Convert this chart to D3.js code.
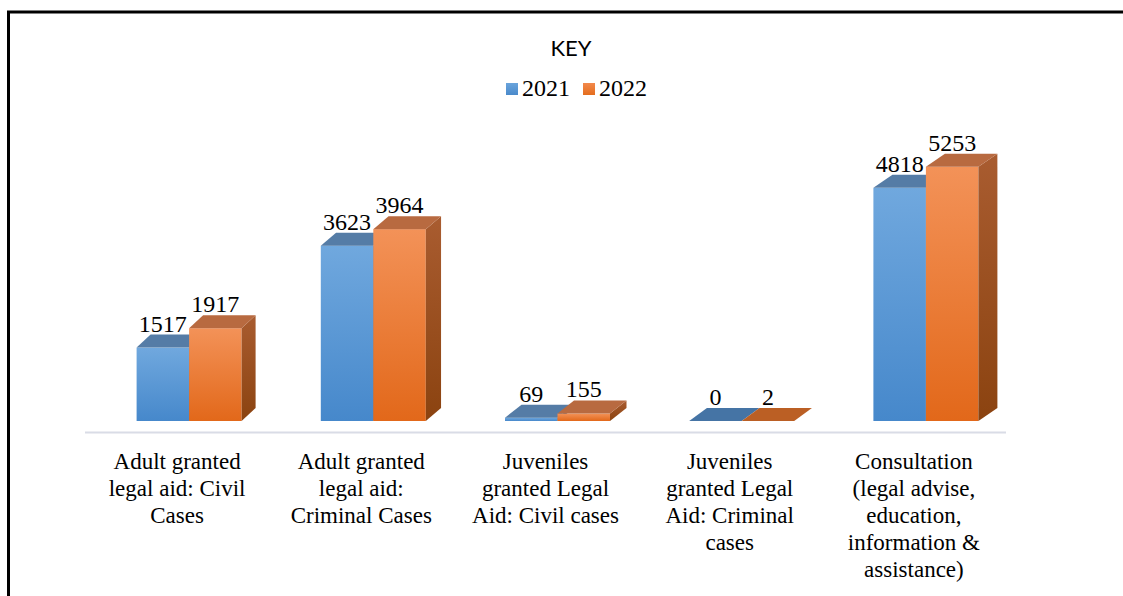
<!DOCTYPE html>
<html>
<head>
<meta charset="utf-8">
<script src="https://cdn.jsdelivr.net/npm/d3@7"></script>
<style>
  html, body { margin: 0; padding: 0; background: #fff; }
  svg { display: block; }
</style>
</head>
<body>
<script>
// ---- data ----
const categories = [
  "Adult granted legal aid: Civil Cases",
  "Adult granted legal aid: Criminal Cases",
  "Juveniles granted Legal Aid: Civil cases",
  "Juveniles granted Legal Aid: Criminal cases",
  "Consultation (legal advise, education, information & assistance)"
];
const categoryLines = [
  ["Adult granted", "legal aid: Civil", "Cases"],
  ["Adult granted", "legal aid:", "Criminal Cases"],
  ["Juveniles", "granted Legal", "Aid: Civil cases"],
  ["Juveniles", "granted Legal", "Aid: Criminal", "cases"],
  ["Consultation", "(legal advise,", "education,", "information &", "assistance)"]
];
const seriesNames = ["2021", "2022"];
const values2021 = [1517, 3623, 69, 0, 4818];
const values2022 = [1917, 3964, 155, 2, 5253];
const seriesValues = [values2021, values2022];

// ---- layout ----
const W = 1123, H = 596;
const serif = "'Liberation Serif', 'Times New Roman', serif";
const svg = d3.select("body").append("svg").attr("width", W).attr("height", H);

const defs = svg.append("defs");
function vgrad(id, c1, c2) {
  const g = defs.append("linearGradient").attr("id", id)
    .attr("x1", 0).attr("y1", 0).attr("x2", 0).attr("y2", 1);
  g.append("stop").attr("offset", "0%").attr("stop-color", c1);
  g.append("stop").attr("offset", "100%").attr("stop-color", c2);
}
vgrad("blueFront", "#70a8de", "#4688cb");
vgrad("orangeFront", "#f39258", "#e2681a");
vgrad("blueSide", "#3f6e9e", "#2f5a86");
vgrad("orangeSide", "#a95c30", "#8b4310");
vgrad("legBlue", "#6aa4dc", "#4a8acb");
vgrad("legOrange", "#f2894c", "#e46d1d");

const styles = [
  { front: "url(#blueFront)", top: "#557ca6", side: "url(#blueSide)", flatTop: "#4574a5" },
  { front: "url(#orangeFront)", top: "#b86a40", side: "url(#orangeSide)", flatTop: "#bb5f24" }
];

// border frame
svg.append("rect").attr("x", 8.5).attr("y", 12).attr("width", 2000).attr("height", 2000)
  .attr("fill", "none").attr("stroke", "#000").attr("stroke-width", 3);

const baseY = 421;
const y = d3.scaleLinear().domain([0, 6000]).range([baseY, baseY - 290.4]);
const x = d3.scaleBand().domain(categories).range([85, 1006]).paddingInner(0).paddingOuter(0);
const pairW = 105;
const barShift = 12;
const x1 = d3.scaleBand().domain(seriesNames).range([0, pairW]);
const depthX = d3.scaleLinear().domain([0, categories.length - 1]).range([14, 19]);
const depthY = 13;

// floor / axis line
svg.append("line").attr("x1", x.range()[0]).attr("x2", x.range()[1])
  .attr("y1", 432.5).attr("y2", 432.5).attr("stroke", "#d9dce6").attr("stroke-width", 2);

// bars
const gBars = svg.append("g");
categories.forEach((cat, ci) => {
  const cx = x(cat) + x.bandwidth() / 2 + barShift;
  const left = cx - pairW / 2;
  const dx = depthX(ci), dy = depthY;
  seriesNames.forEach((s, si) => {
    const v = seriesValues[si][ci];
    const x0 = left + x1(s), w = x1.bandwidth();
    const yt = y(v), yb = y(0);
    const st = styles[si];
    const g = gBars.append("g");
    if (yb - yt > 0.5) {
      g.append("rect").attr("x", x0).attr("y", yt).attr("width", w).attr("height", yb - yt)
        .attr("fill", st.front);
      g.append("path").attr("d", `M${x0 + w},${yt} L${x0 + w + dx},${yt - dy} L${x0 + w + dx},${yb - dy} L${x0 + w},${yb} Z`)
        .attr("fill", st.side);
    }
    g.append("path").attr("d", `M${x0},${yt} L${x0 + w},${yt} L${x0 + w + dx},${yt - dy} L${x0 + dx},${yt - dy} Z`)
      .attr("fill", yb - yt > 0.5 ? st.top : st.flatTop);
    g.append("text").attr("x", x0 + w / 2).attr("y", yt - dy - 3)
      .attr("text-anchor", "middle")
      .attr("font-family", serif)
      .attr("font-size", 24).attr("fill", "#000")
      .text(v);
  });
});

// category labels
const gLab = svg.append("g")
  .attr("font-family", serif)
  .attr("font-size", 23).attr("fill", "#000").attr("text-anchor", "middle");
categories.forEach((cat, ci) => {
  const cx = x(cat) + x.bandwidth() / 2;
  const t = gLab.append("text").attr("x", cx).attr("y", 469);
  categoryLines[ci].forEach((ln, li) => {
    t.append("tspan").attr("x", cx).attr("dy", li === 0 ? 0 : 27).text(ln);
  });
});

// title
svg.append("text").attr("x", 571).attr("y", 56).attr("text-anchor", "middle")
  .attr("font-family", "Lato, 'Open Sans', sans-serif").attr("font-size", 22).attr("fill", "#000")
  .text("KEY");

// legend
const legFills = ["url(#legBlue)", "url(#legOrange)"];
const legX = [506, 583];
const gLeg = svg.append("g");
seriesNames.forEach((s, i) => {
  gLeg.append("rect").attr("x", legX[i]).attr("y", 83).attr("width", 12).attr("height", 12)
    .attr("fill", legFills[i]);
  gLeg.append("text").attr("x", legX[i] + 16).attr("y", 96)
    .attr("font-family", serif)
    .attr("font-size", 24).attr("fill", "#000").text(s);
});
</script>
</body>
</html>
